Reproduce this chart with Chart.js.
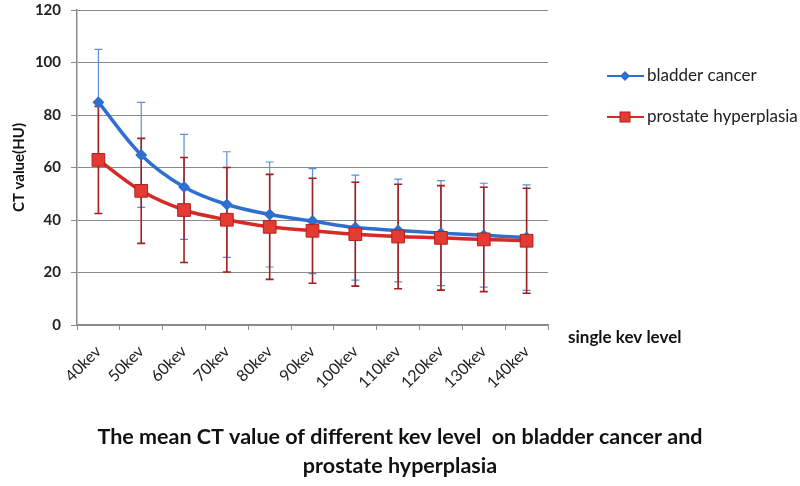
<!DOCTYPE html>
<html>
<head>
<meta charset="utf-8">
<script src="https://cdn.jsdelivr.net/npm/chart.js@4"></script>
<style>
  html, body { margin: 0; padding: 0; background: #fff; }
  #wrap { width: 800px; height: 486px; position: relative; }
</style>
</head>
<body>
<div id="wrap"><canvas id="chart" width="800" height="486"></canvas></div>
<script>
const kevLevels = ['40kev', '50kev', '60kev', '70kev', '80kev', '90kev', '100kev', '110kev', '120kev', '130kev', '140kev'];
const bladderMean = [84.9, 64.8, 52.6, 45.9, 42.1, 39.6, 37.1, 36.0, 35.0, 34.2, 33.3];
const bladderSD = [20.1, 20.0, 20.0, 20.1, 20.0, 20.0, 20.0, 19.6, 20.0, 19.8, 20.1];
const prostateMean = [62.9, 51.1, 43.8, 40.1, 37.4, 35.9, 34.6, 33.7, 33.2, 32.6, 32.1];
const prostateSD = [20.4, 20.0, 20.0, 19.9, 20.0, 20.0, 19.8, 19.9, 19.9, 19.9, 20.0];
const yTicks = [0, 20, 40, 60, 80, 100, 120];

const FONT = 'Lato, "Open Sans", sans-serif';
const BLUE = '#2f6fd0';
const RED = '#d52a26';

// Error bars (mean +/- SD) drawn through the chart's own scales
const errorBars = {
    id: 'errorBars',
    beforeDatasetsDraw(chart) {
        const { ctx, scales: { x, y } } = chart;
        const sets = [
            { mean: bladderMean, sd: bladderSD, color: '#5a8fd6', width: 1.2 },
            { mean: prostateMean, sd: prostateSD, color: '#a21f1f', width: 1.6 }
        ];
        ctx.save();
        sets.forEach(s => {
            ctx.strokeStyle = s.color;
            ctx.lineWidth = s.width;
            s.mean.forEach((m, i) => {
                const px = x.getPixelForValue(i);
                const top = y.getPixelForValue(m + s.sd[i]);
                const bot = y.getPixelForValue(m - s.sd[i]);
                ctx.beginPath();
                ctx.moveTo(px, top); ctx.lineTo(px, bot);
                ctx.moveTo(px - 4, top); ctx.lineTo(px + 4, top);
                ctx.moveTo(px - 4, bot); ctx.lineTo(px + 4, bot);
                ctx.stroke();
            });
        });
        ctx.restore();
    }
};

// Legend, axis caption and chart caption
const extras = {
    id: 'extras',
    afterDraw(chart) {
        const { ctx, chartArea } = chart;
        ctx.save();
        // legend
        const items = [
            { label: 'bladder cancer', color: BLUE, style: 'diamond', y: 76 },
            { label: 'prostate hyperplasia', color: RED, style: 'square', y: 117 }
        ];
        items.forEach(it => {
            ctx.strokeStyle = it.color;
            ctx.lineWidth = 2;
            ctx.beginPath();
            ctx.moveTo(607, it.y); ctx.lineTo(644, it.y);
            ctx.stroke();
            ctx.fillStyle = it.color;
            ctx.beginPath();
            if (it.style === 'diamond') {
                ctx.moveTo(625, it.y - 5); ctx.lineTo(630, it.y);
                ctx.lineTo(625, it.y + 5); ctx.lineTo(620, it.y);
                ctx.closePath();
                ctx.fill();
            } else {
                ctx.fillStyle = '#e33a34';
                ctx.fillRect(620, it.y - 5, 10, 10);
                ctx.strokeStyle = '#a8201c';
                ctx.lineWidth = 1;
                ctx.strokeRect(620, it.y - 5, 10, 10);
            }
            ctx.fillStyle = '#222';
            ctx.font = '17px ' + FONT;
            ctx.textBaseline = 'middle';
            ctx.textAlign = 'left';
            ctx.fillText(it.label, 647, it.y);
        });
        // x axis caption
        ctx.fillStyle = '#111';
        ctx.font = 'bold 17px ' + FONT;
        ctx.textBaseline = 'middle';
        ctx.fillText('single kev level', 568, chartArea.bottom + 13);
        // chart caption
        ctx.font = 'bold 21.5px ' + FONT;
        ctx.textAlign = 'center';
        ctx.fillText('The mean CT value of different kev level  on bladder cancer and', 400, 437);
        ctx.fillText('prostate hyperplasia', 400, 466);
        ctx.restore();
    }
};

new Chart(document.getElementById('chart'), {
    type: 'line',
    data: {
        labels: kevLevels,
        datasets: [
            {
                label: 'bladder cancer',
                data: bladderMean,
                borderColor: BLUE,
                backgroundColor: BLUE,
                borderWidth: 3.5,
                tension: 0.35,
                pointStyle: 'rectRot',
                pointRadius: 6,
                pointBorderWidth: 0,
                order: 2
            },
            {
                label: 'prostate hyperplasia',
                data: prostateMean,
                borderColor: RED,
                backgroundColor: '#e33a34',
                borderWidth: 3.5,
                tension: 0.35,
                pointStyle: 'rect',
                pointRadius: 9,
                pointBorderColor: '#b0231e',
                pointBorderWidth: 1,
                order: 1
            }
        ]
    },
    options: {
        responsive: false,
        animation: false,
        events: [],
        layout: { padding: { top: 0, right: 252, left: 10, bottom: 0 } },
        plugins: {
            legend: { display: false },
            tooltip: { enabled: false }
        },
        scales: {
            x: {
                offset: true,
                grid: { drawOnChartArea: false, color: '#8a8a8a', tickLength: 5, offset: true },
                border: { color: '#8a8a8a', width: 1.5 },
                ticks: {
                    color: '#222',
                    font: { family: FONT, size: 16 },
                    maxRotation: 45,
                    minRotation: 45,
                    padding: 12
                },
                afterFit(scale) { scale.height = 161; }
            },
            y: {
                min: 0,
                max: 120,
                afterBuildTicks(scale) { scale.ticks = yTicks.map(v => ({ value: v })); },
                grid: { color: '#8a8a8a', tickLength: 6 },
                border: { color: '#8a8a8a', width: 1.5 },
                ticks: {
                    color: '#222',
                    font: { family: FONT, size: 15, weight: 'bold' },
                    padding: 10
                },
                title: {
                    display: true,
                    text: 'CT value(HU)',
                    color: '#111',
                    font: { family: FONT, size: 15, weight: 'bold' },
                    padding: { top: 0, bottom: 4 }
                },
                afterFit(scale) {
                    scale.width = 67;
                    scale.paddingTop = 8;
                    scale.paddingBottom = 0;
                }
            }
        }
    },
    plugins: [errorBars, extras]
});
</script>
</body>
</html>
